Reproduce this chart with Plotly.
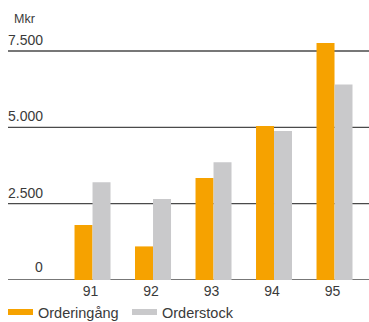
import plotly.graph_objects as go

# Order intake and order backlog, MSEK
years = ["91", "92", "93", "94", "95"]
orderingang = [1800, 1100, 3340, 5040, 7760]
orderstock = [3200, 2650, 3860, 4880, 6400]
series_names = ["Orderingång", "Orderstock"]
series_colors = ["#F6A200", "#C9C9CB"]
y_ticks = [0, 2500, 5000, 7500]
y_tick_labels = ["0", "2.500", "5.000", "7.500"]
unit_label = "Mkr"

FONT = "Liberation Sans, Arial, sans-serif"
TEXT = "#3a3a3a"
PLOT_W = 361   # plot area width in px
PLOT_H = 250   # plot area height in px

fig = go.Figure()
for name, vals, col in zip(series_names, [orderingang, orderstock], series_colors):
    fig.add_trace(go.Bar(x=years, y=vals, name=name, marker_color=col,
                         marker_line_width=0, showlegend=False))

# horizontal rules at each value level, drawn under the bars
for v in y_ticks:
    fig.add_shape(type="line", xref="paper", yref="y", x0=0, x1=1, y0=v, y1=v,
                  line=dict(color="#4a4a4a", width=1.3), layer="below")

# value labels sitting just above each rule, right-aligned
for v, lab in zip(y_ticks, y_tick_labels):
    fig.add_annotation(xref="paper", yref="y", x=37 / PLOT_W, y=v, text=lab,
                       showarrow=False, xanchor="right", yanchor="bottom",
                       yshift=1 if v else 3, font=dict(family=FONT, size=14, color=TEXT))
fig.add_annotation(xref="paper", yref="paper", x=4 / PLOT_W, y=1 + 11 / PLOT_H,
                   text=unit_label, showarrow=False, xanchor="left", yanchor="middle",
                   font=dict(family=FONT, size=12.5, color=TEXT))

# legend: wide thin colour swatches followed by series names
leg_x = [0 / PLOT_W, 124 / PLOT_W]
for lx, name, col in zip(leg_x, series_names, series_colors):
    fig.add_shape(type="rect", xref="paper", yref="paper", x0=lx, x1=lx + 25 / PLOT_W,
                  y0=-29 / PLOT_H, y1=-35 / PLOT_H, fillcolor=col, line_width=0)
    fig.add_annotation(xref="paper", yref="paper", x=lx + 28 / PLOT_W, y=-33 / PLOT_H,
                       text=name, showarrow=False, xanchor="left", yanchor="middle",
                       font=dict(family=FONT, size=14.5, color=TEXT))

fig.update_layout(
    width=369, height=322,
    margin=dict(l=8, r=0, t=30, b=42),
    paper_bgcolor="white", plot_bgcolor="white",
    barmode="group", bargap=0.405, bargroupgap=0,
    font=dict(family=FONT, size=14, color=TEXT),
    xaxis=dict(type="category", range=[-1.397, 4.570], showgrid=False, showline=False,
               zeroline=False, ticks="", ticklen=0, ticklabelshift=-2, ticklabelstandoff=1,
               tickfont=dict(family=FONT, size=14, color=TEXT)),
    yaxis=dict(range=[0, 8188], showgrid=False, showline=False, zeroline=False,
               showticklabels=False, ticks=""),
)

fig.write_html("out.html")
